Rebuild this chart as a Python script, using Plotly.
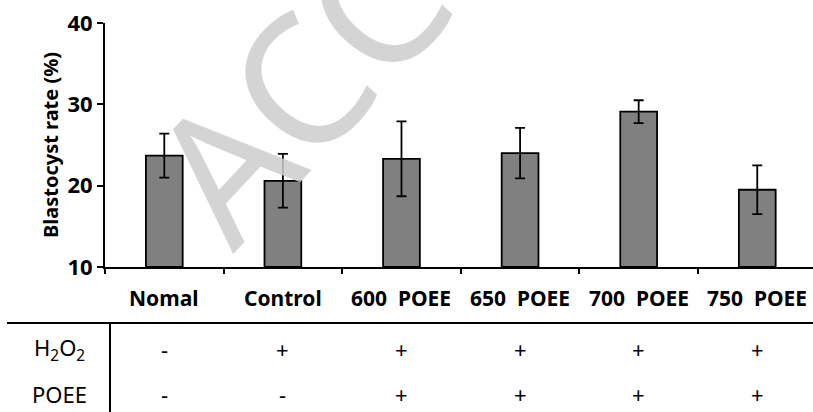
import plotly.graph_objects as go

categories = ["Nomal", "Control", "600 POEE", "650 POEE", "700 POEE", "750 POEE"]
tick_labels = ["Nomal", "Control", "600\u00a0 POEE", "650\u00a0 POEE", "700\u00a0 POEE", "750\u00a0 POEE"]
blastocyst_rate = [23.7, 20.6, 23.3, 24.0, 29.1, 19.5]
error_sd = [2.7, 3.3, 4.6, 3.1, 1.4, 3.0]
h2o2_row = ["-", "+", "+", "+", "+", "+"]
poee_row = ["-", "-", "+", "+", "+", "+"]
y_ticks = [10, 20, 30, 40]

FONT = "Noto Sans"
W, H = 813, 412
L, T, B = 105, 23, 145
PW, PH = W - L, H - T - B


def px_x(px):
    return (px - L) / PW


def px_y(py):
    return (H - B - py) / PH


fig = go.Figure()
fig.add_trace(go.Bar(
    x=categories, y=[v - 10 for v in blastocyst_rate], base=10,
    width=0.31,
    marker=dict(color="#808080", line=dict(color="black", width=1.8)),
    error_y=dict(type="data", array=error_sd, color="black", thickness=1.8, width=5),
    showlegend=False,
))

fig.update_layout(
    width=W, height=H,
    margin=dict(l=L, r=0, t=T, b=B, pad=0, autoexpand=False),
    paper_bgcolor="white", plot_bgcolor="white",
    font=dict(family=FONT, color="black"),
    bargap=0.69,
)
fig.update_xaxes(
    type="category", range=[-0.5, 5.47],
    tickmode="array", tickvals=categories, showticklabels=False,
    tickson="boundaries", ticks="outside", ticklen=5, tickwidth=1.5, tickcolor="black",
    showline=True, linecolor="black", linewidth=1.8, showgrid=False,
)
fig.update_yaxes(
    range=[10, 40], tickvals=y_ticks, ticksuffix="\u2002\u2002",
    ticks="outside", ticklen=6, tickwidth=1.5, tickcolor="black",
    showline=True, linecolor="black", linewidth=1.8, showgrid=False, zeroline=False,
    tickfont=dict(family=FONT, size=22, color="black", weight="bold"),
    title=dict(text="Blastocyst rate (%)", standoff=4,
               font=dict(family=FONT, size=20, color="black", weight="bold")),
)

# category labels under the axis
for cat, lab in zip(categories, tick_labels):
    fig.add_annotation(text=lab, xref="x", yref="paper", x=cat, y=px_y(298),
                       showarrow=False, xanchor="center", yanchor="middle",
                       font=dict(family=FONT, size=21, color="black", weight="bold"))

# watermark
fig.add_annotation(
    text="ACC", xref="paper", yref="paper", x=px_x(296), y=px_y(84),
    xanchor="center", yanchor="middle", showarrow=False, textangle=-47,
    font=dict(family=FONT, size=180, color="rgba(204,204,204,0.85)"),
)

# table lines
fig.add_shape(type="line", xref="paper", yref="paper",
              x0=px_x(7), x1=1, y0=px_y(323), y1=px_y(323),
              line=dict(color="black", width=2))
fig.add_shape(type="line", xref="paper", yref="paper",
              x0=px_x(110), x1=px_x(110), y0=px_y(323), y1=px_y(412),
              line=dict(color="black", width=2))

row_y = [px_y(349), px_y(394)]
fig.add_annotation(text="H<sub>2</sub>O<sub>2</sub>", xref="paper", yref="paper",
                   x=px_x(59), y=row_y[0], showarrow=False, xanchor="center", yanchor="middle",
                   font=dict(family=FONT, size=22))
fig.add_annotation(text="POEE", xref="paper", yref="paper",
                   x=px_x(59), y=row_y[1], showarrow=False, xanchor="center", yanchor="middle",
                   font=dict(family=FONT, size=22))
for row, yy in zip([h2o2_row, poee_row], row_y):
    for cat, sym in zip(categories, row):
        fig.add_annotation(text=sym, xref="x", yref="paper", x=cat, y=yy,
                           showarrow=False, xanchor="center", yanchor="middle",
                           font=dict(family=FONT, size=22))

fig.write_html(
    "out.html",
    config={"displayModeBar": False},
    post_script="document.body.style.margin='0';document.body.style.overflow='hidden';",
)
